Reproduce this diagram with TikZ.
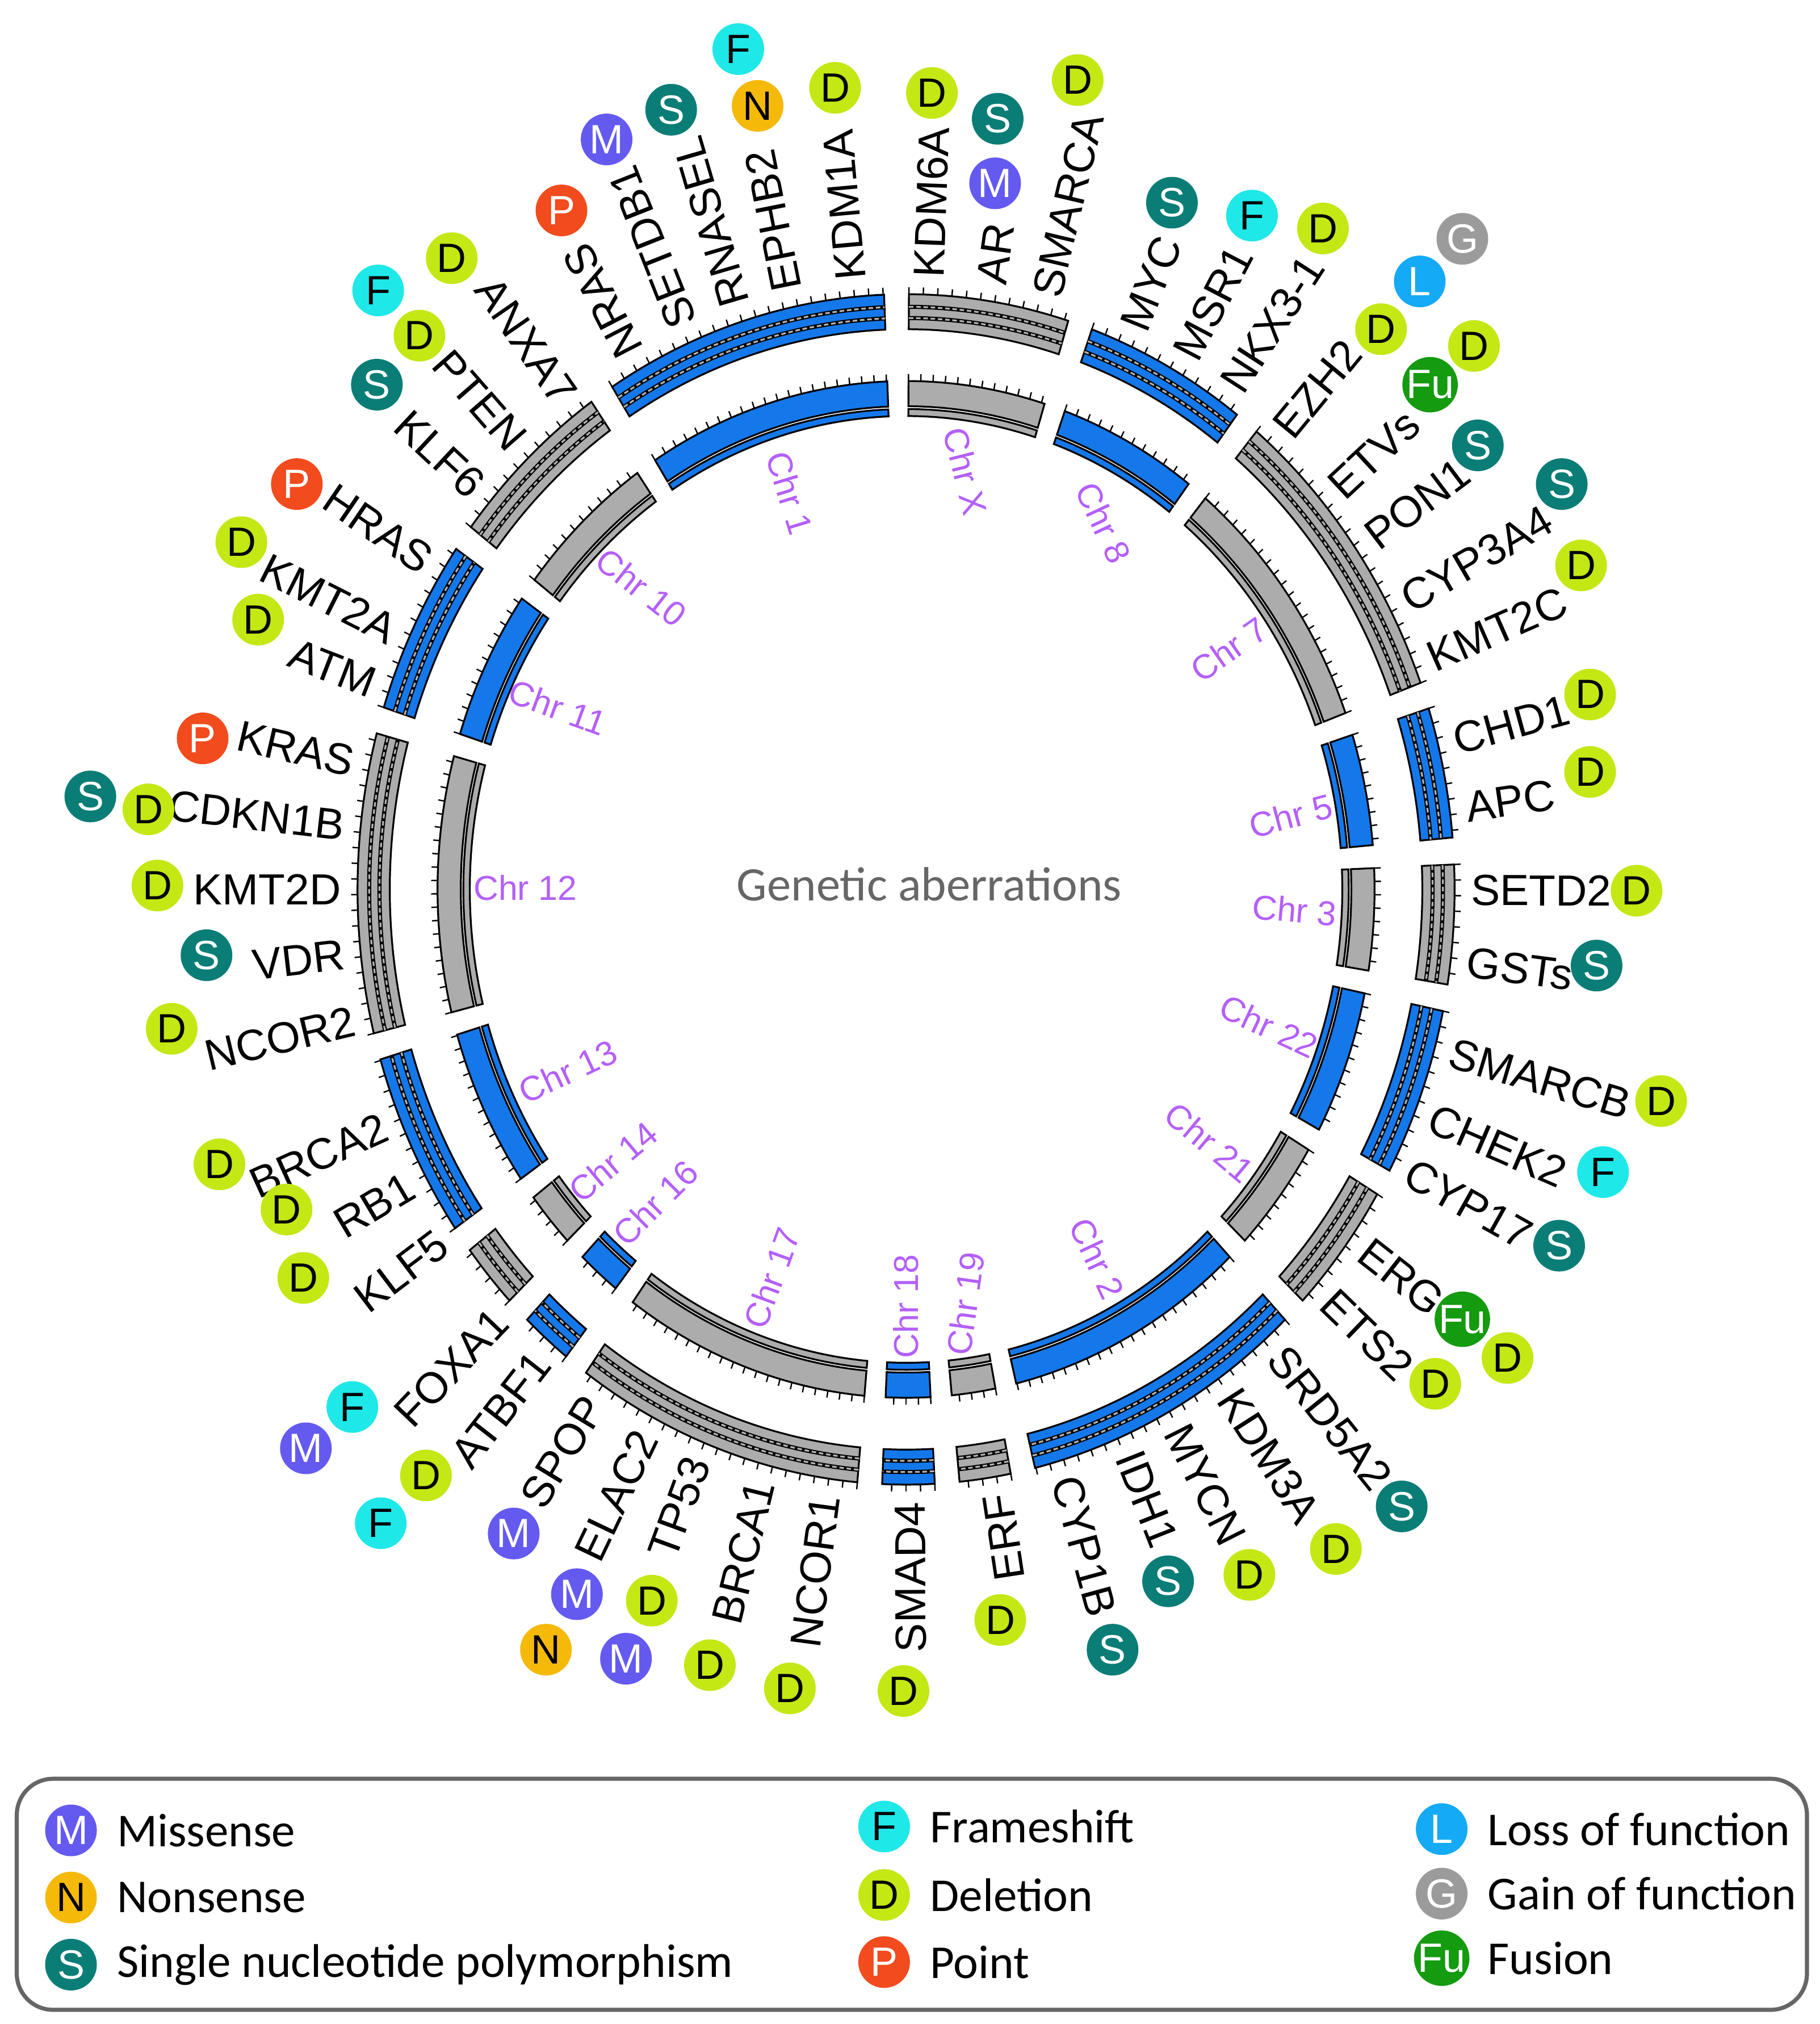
\documentclass[tikz,border=0pt]{standalone}
\usepackage{fontspec}
\setmainfont{Liberation Sans}
\newfontfamily\legfont{Carlito}
\begin{document}
\definecolor{cblue}{RGB}{20,120,235}
\definecolor{cgray}{RGB}{172,172,172}
\definecolor{cpurp}{RGB}{180,95,250}
\definecolor{kM}{RGB}{100,90,240}
\definecolor{kN}{RGB}{245,185,10}
\definecolor{kS}{RGB}{10,125,118}
\definecolor{kF}{RGB}{30,232,232}
\definecolor{kD}{RGB}{195,232,20}
\definecolor{kP}{RGB}{242,75,30}
\definecolor{kL}{RGB}{20,170,245}
\definecolor{kG}{RGB}{155,155,155}
\definecolor{kFu}{RGB}{20,155,15}
\begin{tikzpicture}[x=0.01cm,y=0.01cm,
  gene/.style={font=\fontsize{9.6}{11}\selectfont,inner sep=0pt},
  chr/.style={font=\fontsize{7.6}{9}\selectfont,text=cpurp,inner sep=0pt},
  bdg/.style={circle,minimum size=0.4cm,inner sep=0pt,font=\fontsize{9}{10}\selectfont},
  bM/.style={bdg,fill=kM,text=white},bN/.style={bdg,fill=kN,text=black},
  bS/.style={bdg,fill=kS,text=white},bF/.style={bdg,fill=kF,text=black},
  bD/.style={bdg,fill=kD,text=black},bP/.style={bdg,fill=kP,text=white},
  bL/.style={bdg,fill=kL,text=white},bG/.style={bdg,fill=kG,text=white},
  bFu/.style={bdg,fill=kFu,text=white},
  leg/.style={font=\legfont\fontsize{10.4}{12}\selectfont,anchor=west,inner sep=0pt}]
\useasboundingbox (0,0) rectangle (1410,-1568);
\newcommand\seg[3]{%
  \fill[#3,draw=black,line width=0.4pt] (#1:400) arc[start angle=#1,end angle=#2,radius=400] -- (#2:425) arc[start angle=#2,end angle=#1,radius=425] -- cycle;
  \foreach \r in {408,416}{
    \draw[black,line width=0.9pt] (#1:\r) arc[start angle=#1,end angle=#2,radius=\r];
    \draw[gray!60,line width=0.4pt,dash pattern=on 1pt off 0.6pt] (#1:\r) arc[start angle=#1,end angle=#2,radius=\r];}
  \fill[#3,draw=black,line width=0.4pt] (#1:345) arc[start angle=#1,end angle=#2,radius=345] -- (#2:363) arc[start angle=#2,end angle=#1,radius=363] -- cycle;
  \fill[#3,draw=black,line width=0.4pt] (#1:338) arc[start angle=#1,end angle=#2,radius=338] -- (#2:343) arc[start angle=#2,end angle=#1,radius=343] -- cycle;
  \pgfmathsetmacro\tb{#1-1.5}
  \foreach \t in {#1,\tb,...,#2}{
    \draw[black,line width=0.3pt] (\t:425) -- (\t:430);
    \draw[black,line width=0.3pt] (\t:363) -- (\t:368);}
}
\begin{scope}[shift={(702,-689)},yscale=1.085]
\seg{89.7}{72.8}{cgray}
\seg{70.2}{52.9}{cblue}
\seg{50.3}{20.3}{cgray}
\seg{17.7}{5}{cblue}
\seg{2.4}{-9.2}{cgray}
\seg{-11.8}{-28.2}{cblue}
\seg{-30.8}{-43.7}{cgray}
\seg{-46.3}{-76.4}{cblue}
\seg{-79}{-84.4}{cgray}
\seg{-87}{-92.5}{cblue}
\seg{-95.1}{-125.7}{cgray}
\seg{-128.3}{-133.7}{cblue}
\seg{-136.3}{-142.7}{cgray}
\seg{-145.3}{-163.4}{cblue}
\seg{-166}{-195.2}{cgray}
\seg{-197.8}{-214.9}{cblue}
\seg{-217.5}{-235}{cgray}
\seg{-237.6}{-267.7}{cblue}
\end{scope}
\node[font=\legfont\fontsize{10.6}{12}\selectfont,text=gray!80!black] (title) at (720,-685) {Genetic aberrations};
% chromosome labels
\node[chr,rotate=-73] (c1) at (612,-382) {Chr 1};
\node[chr,rotate=-76] (cX) at (748,-365) {Chr X};
\node[chr,rotate=-65] (c8) at (855,-405) {Chr 8};
\node[chr,rotate=35] (c7) at (952,-503) {Chr 7};
\node[chr,rotate=15] (c5) at (1000,-632) {Chr 5};
\node[chr,rotate=-5] (c3) at (1003,-705) {Chr 3};
\node[chr,rotate=-25] (c22) at (983,-795) {Chr 22};
\node[chr,rotate=-40] (c21) at (937,-885) {Chr 21};
\node[chr,rotate=-65] (c2) at (850,-975) {Chr 2};
\node[chr,rotate=82] (c19) at (748,-1010) {Chr 19};
\node[chr,rotate=90] (c18) at (702,-1012) {Chr 18};
\node[chr,rotate=70] (c17) at (598,-990) {Chr 17};
\node[chr,rotate=45] (c16) at (508,-932) {Chr 16};
\node[chr,rotate=40] (c14) at (475,-900) {Chr 14};
\node[chr,rotate=25] (c13) at (440,-830) {Chr 13};
\node[chr] (c12) at (407,-688) {Chr 12};
\node[chr,rotate=-20] (c11) at (432,-548) {Chr 11};
\node[chr,rotate=-38] (c10) at (497,-455) {Chr 10};
% genes
\newcommand\gn[3]{%
  \pgfmathsetmacro\gx{702+437*cos(#2)}%
  \pgfmathsetmacro\gy{-689+474*sin(#2)}%
  \pgfmathsetmacro\gr{atan2(474*sin(#2),437*cos(#2))}%
  \pgfmathparse{(#2>123 || #2<-77) ? 1 : 0}%
  \ifnum\pgfmathresult=1
    \node[gene,anchor=east,rotate=\gr+180] (#1) at (\gx,\gy) {#3};
  \else
    \node[gene,anchor=west,rotate=\gr] (#1) at (\gx,\gy) {#3};
  \fi}
\gn{nras}{119.2}{NRAS}
\gn{setdb1}{113.2}{SETDB1}
\gn{rnasel}{107.6}{RNASEL}
\gn{ephb2}{102.2}{EPHB2}
\gn{kdm1a}{95.6}{KDM1A}
\gn{kdm6a}{87.7}{KDM6A}
\gn{ar}{81.3}{AR}
\gn{smarca}{75.6}{SMARCA}
\gn{myc}{66.3}{MYC}
\gn{msr1}{60.4}{MSR1}
\gn{nkx}{54.9}{NKX3-1}
\gn{ezh2}{48.3}{EZH2}
\gn{etvs}{40.6}{ETVs}
\gn{pon1}{34.8}{PON1}
\gn{cyp3a4}{28.1}{CYP3A4}
\gn{kmt2c}{22.1}{KMT2C}
\gn{chd1}{14.1}{CHD1}
\gn{apc}{7.7}{APC}
\gn{setd2}{-0.1}{SETD2}
\gn{gsts}{-6.8}{GSTs}
\gn{smarcb}{-15.4}{SMARCB}
\gn{chek2}{-21.8}{CHEK2}
\gn{cyp17}{-27.3}{CYP17}
\gn{erg}{-35.8}{ERG}
\gn{ets2}{-41.7}{ETS2}
\gn{srd5a2}{-49}{SRD5A2}
\gn{kdm3a}{-55.2}{KDM3A}
\gn{mycn}{-61.4}{MYCN}
\gn{idh1}{-66.8}{IDH1}
\gn{cyp1b}{-73.6}{CYP1B}
\gn{erf}{-80.7}{ERF}
\gn{smad4}{-89.6}{SMAD4}
\gn{ncor1}{-98.2}{NCOR1}
\gn{brca1}{-104.9}{BRCA1}
\gn{tp53}{-111.7}{TP53}
\gn{elac2}{-117.4}{ELAC2}
\gn{spop}{-123.5}{SPOP}
\gn{atbf1}{-130.2}{ATBF1}
\gn{foxa1}{-135.9}{FOXA1}
\gn{klf5}{-145.1}{KLF5}
\gn{rb1}{-151.3}{RB1}
\gn{brca2}{-157.3}{BRCA2}
\gn{ncor2}{-167.6}{NCOR2}
\gn{vdr}{-173.9}{VDR}
\gn{kmt2d}{180}{KMT2D}
\gn{cdkn1b}{174}{CDKN1B}
\gn{kras}{168}{KRAS}
\gn{atm}{160.4}{ATM}
\gn{kmt2a}{155.1}{KMT2A}
\gn{hras}{147.8}{HRAS}
\gn{klf6}{139.3}{KLF6}
\gn{pten}{133.4}{PTEN}
\gn{anxa7}{126.9}{ANXA7}
% badges
\newcommand\bd[4]{\node[b#4] (#1) at (#2,-#3) {#4};}
\bd{b1}{470}{108}{M}
\bd{b2}{520}{85}{S}
\bd{b3}{572}{38}{F}
\bd{b4}{587}{82}{N}
\bd{b5}{647}{68}{D}
\bd{b6}{722}{72}{D}
\bd{b7}{773}{92}{S}
\bd{b8}{771}{142}{M}
\bd{b9}{835}{62}{D}
\bd{b10}{435}{163}{P}
\bd{b11}{908}{157}{S}
\bd{b12}{970}{167}{F}
\bd{b13}{1025}{177}{D}
\bd{b14}{1133}{185}{G}
\bd{b15}{1100}{218}{L}
\bd{b16}{1070}{255}{D}
\bd{b17}{1108}{298}{Fu}
\bd{b18}{1142}{268}{D}
\bd{b19}{1145}{345}{S}
\bd{b20}{1210}{375}{S}
\bd{b21}{1225}{438}{D}
\bd{b22}{1232}{538}{D}
\bd{b23}{1232}{598}{D}
\bd{b24}{1268}{690}{D}
\bd{b25}{1237}{748}{S}
\bd{b26}{1287}{853}{D}
\bd{b27}{1242}{908}{F}
\bd{b28}{1208}{965}{S}
\bd{b29}{1133}{1022}{Fu}
\bd{b30}{1168}{1052}{D}
\bd{b31}{1112}{1072}{D}
\bd{b32}{1086}{1167}{S}
\bd{b33}{1035}{1200}{D}
\bd{b34}{968}{1220}{D}
\bd{b35}{905}{1225}{S}
\bd{b36}{862}{1278}{S}
\bd{b37}{775}{1255}{D}
\bd{b38}{700}{1310}{D}
\bd{b39}{612}{1308}{D}
\bd{b40}{550}{1290}{D}
\bd{b41}{505}{1240}{D}
\bd{b42}{485}{1285}{M}
\bd{b43}{447}{1235}{M}
\bd{b44}{423}{1278}{N}
\bd{b45}{398}{1188}{M}
\bd{b46}{330}{1143}{D}
\bd{b47}{295}{1180}{F}
\bd{b48}{273}{1090}{F}
\bd{b49}{237}{1122}{M}
\bd{b50}{235}{990}{D}
\bd{b51}{222}{937}{D}
\bd{b52}{170}{902}{D}
\bd{b53}{133}{797}{D}
\bd{b54}{160}{740}{S}
\bd{b55}{122}{686}{D}
\bd{b56}{115}{627}{D}
\bd{b57}{70}{617}{S}
\bd{b58}{157}{572}{P}
\bd{b59}{200}{480}{D}
\bd{b60}{187}{420}{D}
\bd{b61}{230}{375}{P}
\bd{b62}{292}{298}{S}
\bd{b63}{325}{260}{D}
\bd{b64}{293}{225}{F}
\bd{b65}{350}{200}{D}
% legend
\draw[rounded corners=8pt,draw=gray!80!black,line width=0.9pt] (13,-1378) rectangle (1400,-1557);
\bd{lM}{55}{1418}{M}   \node[leg] (tM) at (90,-1418) {Missense};
\bd{lN}{55}{1470}{N}   \node[leg] (tN) at (90,-1470) {Nonsense};
\bd{lS}{55}{1522}{S}   \node[leg] (tS) at (90,-1522) {Single nucleotide polymorphism};
\bd{lF}{685}{1415}{F}  \node[leg] (tF) at (720,-1415) {Frameshift};
\bd{lD}{685}{1468}{D}  \node[leg] (tD) at (720,-1468) {Deletion};
\bd{lP}{685}{1520}{P}  \node[leg] (tP) at (720,-1520) {Point};
\bd{lL}{1117}{1417}{L} \node[leg] (tL) at (1152,-1417) {Loss of function};
\bd{lG}{1117}{1467}{G} \node[leg] (tG) at (1152,-1467) {Gain of function};
\bd{lFu}{1117}{1517}{Fu} \node[leg] (tFu) at (1152,-1517) {Fusion};
\end{tikzpicture}
\end{document}
